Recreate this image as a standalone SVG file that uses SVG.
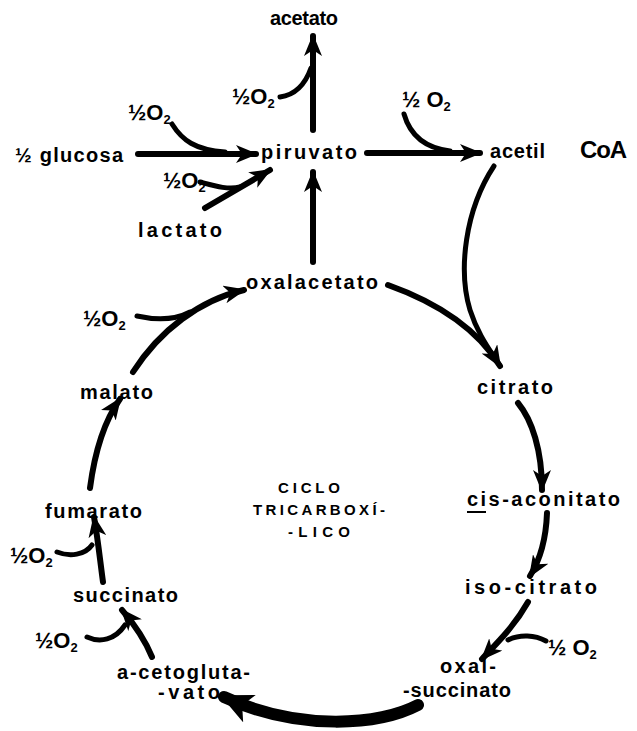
<svg xmlns="http://www.w3.org/2000/svg" width="637" height="731" viewBox="0 0 637 731">
<style>
text{font-family:"Liberation Sans","DejaVu Sans",sans-serif;font-size:20px;font-weight:bold;fill:#000}
.o2{font-size:22px}
.sub{font-size:13px}
.cap{font-size:15px}
.a{fill:none;stroke:#000;stroke-width:6;stroke-linecap:round;marker-end:url(#ah)}
.f{fill:none;stroke:#000;stroke-width:5;stroke-linecap:round}
.big{fill:none;stroke:#000;stroke-width:12;stroke-linecap:round;marker-end:url(#ahb)}
</style>
<defs>
<marker id="ah" markerUnits="userSpaceOnUse" markerWidth="24" markerHeight="18" refX="20" refY="9" orient="auto">
<path d="M0,0 L22,9 L0,18 L6,9 z" fill="#000"/>
</marker>
<marker id="ahb" markerUnits="userSpaceOnUse" markerWidth="34" markerHeight="30" refX="28" refY="15" orient="auto">
<path d="M0,0 L32,15 L0,30 L8,15 z" fill="#000"/>
</marker>
</defs>
<rect width="637" height="731" fill="#fff"/>
<g id="connectors">
<path class="a" d="M313,130 L313,36"/>
<path class="f" d="M280,97 C295,95 305,85 311,68"/>
<path class="a" d="M138,154 L256,154"/>
<path class="f" d="M172,124 C182,140 195,150 225,152"/>
<path class="a" d="M205,208 L270,170"/>
<path class="f" d="M200,182 C215,186 228,190 240,187"/>
<path class="a" d="M367,153 L480,153"/>
<path class="f" d="M404,114 C410,135 425,148 450,151"/>
<path class="f" d="M494,166 C465,210 458,270 470,310 C478,335 490,350 500,366"/>
<path class="a" d="M388,285 C430,300 475,325 500,366"/>
<path class="a" d="M313,262 L313,172"/>
<path class="a" d="M518,403 C532,420 542,450 542,490"/>
<path class="a" d="M547,513 C546,540 540,560 530,576"/>
<path class="a" d="M528,602 C515,625 500,640 482,659"/>
<path class="f" d="M546,641 C535,635 520,634 508,640"/>
<path class="big" d="M418,705 C380,725 300,732 224,697"/>
<path class="a" d="M152,657 C145,640 135,625 122,610"/>
<path class="f" d="M87,637 C100,643 115,640 125,625"/>
<path class="a" d="M103,582 C100,560 98,540 94,517"/>
<path class="f" d="M57,552 C70,557 85,555 92,545"/>
<path class="a" d="M90,488 C95,450 105,420 120,399"/>
<path class="a" d="M133,372 C160,330 200,300 244,290"/>
<path class="f" d="M137,316 C155,320 175,320 190,312"/>
</g>
<g id="acetato"><text x="270" y="25" textLength="68" lengthAdjust="spacing">acetato</text></g>
<g id="o2-acetato"><text class="o2" x="232" y="104">½O<tspan class="sub" dy="4">2</tspan></text></g>
<g id="o2-glucosa"><text class="o2" x="128" y="120">½O<tspan class="sub" dy="4">2</tspan></text></g>
<g id="glucosa"><text x="15" y="162" textLength="108" lengthAdjust="spacing">½ glucosa</text></g>
<g id="o2-lactato"><text class="o2" x="163" y="188">½O<tspan class="sub" dy="4">2</tspan></text></g>
<g id="lactato"><text x="138" y="237" textLength="84" lengthAdjust="spacing">lactato</text></g>
<g id="piruvato"><text x="261" y="159" textLength="96" lengthAdjust="spacing">piruvato</text></g>
<g id="o2-acetil"><text class="o2" x="402" y="107">½ O<tspan class="sub" dy="4">2</tspan></text></g>
<g id="acetilcoa"><text x="490" y="158" textLength="55" lengthAdjust="spacing">acetil</text><text x="580" y="158" style="font-size:24px" textLength="47" lengthAdjust="spacing">CoA</text></g>
<g id="oxalacetato"><text x="246" y="289" textLength="132" lengthAdjust="spacing">oxalacetato</text></g>
<g id="citrato"><text x="477" y="394" textLength="76" lengthAdjust="spacing">citrato</text></g>
<g id="cisaconitato"><text x="467" y="506" textLength="153" lengthAdjust="spacing">cis-aconitato</text><line x1="467" y1="512" x2="486" y2="512" stroke="#000" stroke-width="2"/></g>
<g id="isocitrato"><text x="465" y="594" textLength="132" lengthAdjust="spacing">iso-citrato</text></g>
<g id="o2-iso"><text class="o2" x="548" y="655">½ O<tspan class="sub" dy="4">2</tspan></text></g>
<g id="oxalsuccinato"><text x="440" y="673" textLength="56" lengthAdjust="spacing">oxal-</text><text x="403" y="697" textLength="108" lengthAdjust="spacing">-succinato</text></g>
<g id="cetoglutarato"><text x="117" y="679" textLength="133" lengthAdjust="spacing">a-cetogluta-</text><text x="158" y="699" textLength="62" lengthAdjust="spacing">-vato</text></g>
<g id="o2-ceto"><text class="o2" x="35" y="648">½O<tspan class="sub" dy="4">2</tspan></text></g>
<g id="succinato"><text x="73" y="602" textLength="105" lengthAdjust="spacing">succinato</text></g>
<g id="o2-succ"><text class="o2" x="10" y="563">½O<tspan class="sub" dy="4">2</tspan></text></g>
<g id="fumarato"><text x="45" y="518" textLength="97" lengthAdjust="spacing">fumarato</text></g>
<g id="malato"><text x="80" y="399" textLength="73" lengthAdjust="spacing">malato</text></g>
<g id="o2-malato"><text class="o2" x="83" y="326">½O<tspan class="sub" dy="4">2</tspan></text></g>
<g id="ciclo">
<text class="cap" x="278" y="493" textLength="62" lengthAdjust="spacing">CICLO</text>
<text class="cap" x="253" y="515" textLength="132" lengthAdjust="spacing">TRICARBOXÍ-</text>
<text class="cap" x="288" y="537" textLength="62" lengthAdjust="spacing">-LICO</text>
</g>
</svg>
